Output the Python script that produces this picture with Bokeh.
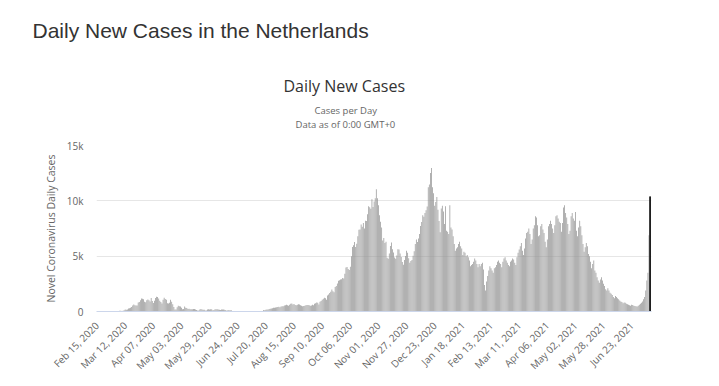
import math
import pandas as pd
from bokeh.plotting import figure
from bokeh.models import ColumnDataSource, FixedTicker, Range1d, Title
from bokeh.embed import file_html
from bokeh.resources import INLINE

# ---------------- data (daily new cases) ----------------
start_date = "2020-02-15"

cases_2020_02 = [0, 0, 0, 0, 0, 0, 0, 0, 0, 0, 0, 0, 1, 1, 5]
cases_2020_03 = [3, 8, 6, 14, 44, 46, 60, 77, 56, 61, 121, 190, 155, 176, 278, 292, 346, 409, 534, 637,
                 573, 545, 545, 811, 852, 1019, 1172, 1159, 1104, 884, 845]
cases_2020_04 = [1019, 1083, 1026, 904, 1224, 952, 777, 969, 1213, 1335, 1316, 1174, 964, 868, 734, 1061,
                 1235, 1140, 1066, 750, 729, 797, 1066, 887, 655, 400, 171, 187, 386, 514]
cases_2020_05 = [475, 445, 335, 199, 232, 455, 342, 319, 220, 245, 196, 199, 200, 222, 227, 179, 125, 99,
                 101, 187, 230, 177, 164, 152, 89, 100, 183, 209, 176, 205, 209]
cases_2020_06 = [111, 138, 209, 210, 210, 187, 169, 146, 172, 184, 187, 152, 141, 76, 139, 112, 115, 117,
                 0, 0, 0, 0, 0, 0, 0, 0, 0, 0, 0, 0]
cases_2020_07 = [0, 0, 0, 0, 0, 0, 0, 0, 0, 0, 0, 0, 0, 0, 0, 0, 0,
                 130, 120, 150, 170, 190, 220, 250, 280, 300, 330, 340, 360, 380, 400]
cases_2020_08 = [420, 390, 450, 470, 480, 550, 560, 600, 570, 520, 610, 690, 720, 640, 680, 590, 560, 600,
                 650, 640, 570, 520, 480, 500, 530, 560, 580, 590, 570, 510, 540]
cases_2020_09 = [620, 570, 690, 740, 820, 780, 640, 880, 950, 1070, 1150, 1240, 1190, 1060, 1440, 1540,
                 1680, 1780, 1980, 1820, 1730, 2220, 2310, 2530, 2780, 2830, 2890, 2910, 3020, 2990]
cases_2020_10 = [3400, 3970, 4010, 3850, 3760, 4050, 5000, 5830, 5980, 6270, 5830, 6120, 6800, 7390, 7420,
                 7870, 7660, 8000, 7500, 8190, 8170, 8780, 9520, 9420, 9280, 10140, 9440, 9930, 10240,
                 11040, 10240]
cases_2020_11 = [9600, 8700, 8100, 7600, 6420, 6640, 6200, 6300, 4860, 4770, 5250, 5920, 6240, 5630, 5340,
                 4870, 4770, 5070, 5630, 5610, 5230, 4920, 4480, 4230, 4650, 5010, 5480, 5300, 4820, 4400]
cases_2020_12 = [4560, 4660, 5030, 5440, 6100, 6510, 6290, 6600, 7000, 7730, 8090, 8690, 8560, 8890, 9160,
                 9480, 11220, 11470, 12510, 12960, 11220, 10680, 9550, 9900, 10340, 9190, 8180, 7160,
                 9310, 9550, 9040]
cases_2021_01 = [7900, 9500, 7300, 7200, 7000, 9600, 7600, 7400, 6800, 6100, 5500, 5700, 5800, 6100, 6300,
                 5900, 5700, 5100, 5400, 5300, 5000, 5100, 4900, 4600, 4100, 4200, 4300, 4500, 4800,
                 4600, 4300]
cases_2021_02 = [4000, 4300, 4100, 4300, 4400, 3800, 2400, 1900, 2700, 3200, 3700, 4100, 3900, 3700, 3500,
                 3900, 4000, 4200, 4500, 4600, 4400, 4300, 4000, 4500, 4800, 4900, 4600, 4400]
cases_2021_03 = [4200, 4100, 4500, 4600, 4800, 4700, 4400, 4200, 4900, 5300, 5600, 5900, 6200, 5500, 5100,
                 5700, 6600, 7100, 7200, 7500, 7000, 6100, 6500, 7500, 7800, 8600, 8500, 7800, 6800,
                 6900, 7700]
cases_2021_04 = [7900, 7400, 7100, 6300, 5800, 6500, 7700, 7900, 8200, 7900, 7500, 7100, 7800, 8600, 8700,
                 8400, 8100, 8000, 7200, 8000, 9400, 9600, 8900, 8500, 7900, 7000, 7300, 8600, 8900, 8400]
cases_2021_05 = [8200, 9000, 7300, 6800, 7600, 8200, 7700, 6900, 6100, 5400, 5800, 6200, 5900, 5200, 5000,
                 4500, 3900, 4300, 4600, 3700, 3500, 3100, 2800, 2600, 2900, 3100, 2800, 2500, 2300,
                 2000, 1900]
cases_2021_06 = [2100, 1900, 1700, 1600, 1500, 1300, 1200, 1400, 1300, 1200, 1100, 1000, 900, 850, 750,
                 820, 800, 700, 650, 600, 560, 520, 600, 580, 520, 500, 480, 450, 520, 600]
cases_2021_07 = [700, 800, 900, 1100, 1300, 1900, 2800, 3500, 6900, 10400]

daily_cases = (cases_2020_02 + cases_2020_03 + cases_2020_04 + cases_2020_05 + cases_2020_06
               + cases_2020_07 + cases_2020_08 + cases_2020_09 + cases_2020_10 + cases_2020_11
               + cases_2020_12 + cases_2021_01 + cases_2021_02 + cases_2021_03 + cases_2021_04
               + cases_2021_05 + cases_2021_06 + cases_2021_07)

x_tick_labels = ["Feb 15, 2020", "Mar 12, 2020", "Apr 07, 2020", "May 03, 2020", "May 29, 2020",
                 "Jun 24, 2020", "Jul 20, 2020", "Aug 15, 2020", "Sep 10, 2020", "Oct 06, 2020",
                 "Nov 01, 2020", "Nov 27, 2020", "Dec 23, 2020", "Jan 18, 2021", "Feb 13, 2021",
                 "Mar 11, 2021", "Apr 06, 2021", "May 02, 2021", "May 28, 2021", "Jun 23, 2021"]
y_tick_values = [0, 5000, 10000, 15000]
y_tick_labels = ["0", "5k", "10k", "15k"]

main_title = "Daily New Cases in the Netherlands"
chart_title = "Daily New Cases"
subtitle_lines = ["Cases per Day", "Data as of 0:00 GMT+0"]
y_axis_title = "Novel Coronavirus Daily Cases"

# ---------------- layout ----------------
n = len(daily_cases)
start = pd.Timestamp(start_date)
dates = pd.date_range(start, periods=n, freq="D")
tick_pos = [(pd.to_datetime(t, format="%b %d, %Y") - start).days for t in x_tick_labels]

W, H = 718, 385
FL, FR, FT, FB = 96, 651, 145, 311  # frame edges in page pixels
X0, X1 = -0.5, n + 0.3
Y0, Y1 = 0, 15000

colors = ["#929292"] * n
colors[-1] = "#1a1a1a"
src = ColumnDataSource(dict(x=list(range(n)), y=daily_cases, color=colors,
                            date=[d.strftime("%b %d, %Y") for d in dates]))
last_src = ColumnDataSource(dict(x=[n - 1], y=[daily_cases[-1]]))

p = figure(width=W, height=H, output_backend="svg", toolbar_location=None, title_location=None,
           x_range=Range1d(X0, X1), y_range=Range1d(Y0, Y1),
           min_border_left=FL, min_border_right=W - FR,
           min_border_top=FT, min_border_bottom=H - FB,
           background_fill_color="white", border_fill_color="white")
p.outline_line_color = None

p.vbar(x="x", top="y", width=0.66, fill_color="color", line_color=None, source=src)
p.vbar(x="x", top="y", width=1.6, fill_color="#1a1a1a", line_color=None, source=last_src)

# grid
p.xgrid.grid_line_color = None
p.ygrid.grid_line_color = "#e6e6e6"
p.ygrid.grid_line_width = 1

FONT = "Open Sans"

# y axis
p.yaxis.ticker = FixedTicker(ticks=y_tick_values)
p.yaxis.major_label_overrides = {v: l for v, l in zip(y_tick_values, y_tick_labels)}
p.yaxis.axis_line_color = None
p.yaxis.major_tick_line_color = None
p.yaxis.minor_tick_line_color = None
p.yaxis.major_tick_out = 0
p.yaxis.minor_tick_out = 0
p.yaxis.major_label_standoff = 13
p.yaxis.major_label_text_font = FONT
p.yaxis.major_label_text_font_size = "10px"
p.yaxis.major_label_text_color = "#666666"
p.yaxis.axis_label = y_axis_title
p.yaxis.axis_label_text_font = FONT
p.yaxis.axis_label_text_font_size = "10.5px"
p.yaxis.axis_label_text_font_style = "normal"
p.yaxis.axis_label_text_color = "#666666"
p.yaxis.axis_label_standoff = 6

# x axis
p.xaxis.ticker = FixedTicker(ticks=tick_pos)
p.xaxis.major_label_overrides = {pos: lab for pos, lab in zip(tick_pos, x_tick_labels)}
p.xaxis.major_label_orientation = math.pi / 4
p.xaxis.axis_line_color = "#ccd6eb"
p.xaxis.major_tick_line_color = None
p.xaxis.minor_tick_line_color = None
p.xaxis.major_label_standoff = 6
p.xaxis.major_label_text_font = FONT
p.xaxis.major_label_text_font_size = "10px"
p.xaxis.major_label_text_color = "#666666"

# titles: the chart title's panel fills the top border; the others hang from its top edge
p.add_layout(Title(text=chart_title, align="left", offset=187, standoff=98,
                   text_font=FONT, text_font_size="16px", text_font_style="normal",
                   text_color="#333333"), "above")
p.add_layout(Title(text=subtitle_lines[1], align="left", offset=199, standoff=-214,
                   text_font=FONT, text_font_size="9.5px", text_font_style="normal",
                   text_color="#666666"), "above")
p.add_layout(Title(text=subtitle_lines[0], align="left", offset=218, standoff=-186,
                   text_font=FONT, text_font_size="9.5px", text_font_style="normal",
                   text_color="#666666"), "above")
p.add_layout(Title(text=main_title, align="left", offset=-64, standoff=-37,
                   text_font="Liberation Sans", text_font_size="21px", text_font_style="normal",
                   text_color="#333333"), "above")

open("out.html", "w").write(file_html(p, INLINE))
